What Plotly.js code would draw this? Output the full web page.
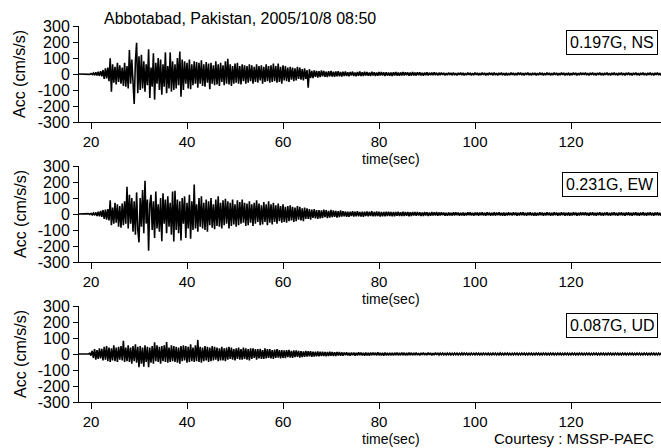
<!DOCTYPE html>
<html>
<head>
<meta charset="utf-8">
<script src="https://cdn.plot.ly/plotly-3.0.1.min.js"></script>
<style>html,body{margin:0;padding:0;background:#fff;}#chart{width:661px;height:448px;}</style>
</head>
<body>
<div id="chart"></div>
<script>
// Sampling of the records (start time and step, seconds)
const T0 = 17.5;
const DT = 0.25;

// NS component acceleration (cm/s/s), 20 samples (5 s) per row
const nsAcc = [
  0,0,0,0,0,0,0,0,1,-2,3,-4,6,-8,10,-9,14,-12,18,-15,
  25,-30,35,-28,40,-45,98,-110,60,-55,45,-65,70,-50,55,-60,40,-75,70,-80,
  50,-90,150,-60,90,-40,-187,80,195,-120,110,-100,120,-90,80,-110,60,-70,155,-150,
  40,-80,130,-160,70,-60,100,-100,90,-130,60,-80,135,-120,50,-90,135,-110,80,-100,
  60,-90,100,-70,140,-142,90,-100,80,-60,70,-90,90,-95,60,-70,80,-60,75,-85,
  70,-60,85,-75,60,-80,75,-55,65,-95,70,-60,55,-70,80,-65,60,-75,70,-50,
  55,-70,80,-60,95,-65,60,-75,50,-60,65,-55,70,-60,50,-65,60,-45,55,-60,
  50,-55,60,-45,55,-60,45,-50,60,-55,50,-40,55,-60,45,-50,60,-45,50,-55,
  55,-50,65,-45,50,-55,65,-50,45,-60,55,-40,50,-45,40,-50,45,-35,40,-45,
  35,-40,45,-30,40,-35,30,-40,35,-30,25,-85,30,-25,20,-25,22,-18,20,-22,
  18,-20,22,-15,20,-18,15,-20,18,-15,20,-16,14,-18,16,-14,18,-15,12,-16,
  14,-12,16,-13,11,-15,13,-10,15,-12,10,-14,12,-11,16,-13,11,-12,14,-10,
  12,-11,10,-13,14,-10,11,-12,9,-11,13,-10,12,-9,10,-12,11,-10,9,-11,
  10,-12,11,-9,13,-10,9,-11,10,-9,12,-10,11,-8,10,-11,9,-10,12,-9,
  9,-10,11,-8,10,-9,8,-10,9,-8,10,-9,8,-7,9,-8,10,-7,8,-9,
  8,-7,9,-6,7,-8,6,-7,8,-6,7,-8,9,-7,6,-8,7,-6,8,-7,
  7,-8,6,-7,9,-6,7,-8,6,-7,8,-6,7,-9,6,-7,8,-6,7,-8,
  6,-7,8,-6,7,-8,9,-7,6,-8,7,-6,8,-7,6,-8,7,-9,6,-7,
  8,-6,7,-8,6,-7,8,-6,9,-7,6,-8,7,-6,8,-7,6,-8,7,-6,
  7,-8,6,-7,8,-6,7,-9,6,-7,8,-6,7,-8,6,-7,9,-6,7,-8,
  6,-7,8,-6,7,-8,6,-7,8,-9,6,-7,8,-6,7,-8,6,-7,8,-6,
  7,-6,8,-7,6,-8,7,-6,8,-7,6,-9,7,-6,8,-7,6,-8,7,-6,
  8,-7,6,-8,7,-6,9,-7,6,-8,7,-6,8,-7,6,-8,7,-6,8,-7,
  6,-8,7,-6,8,-7,6,-8,7,-6,8,-7,6,-9,7,-6,8,-7,6,-8,
  7,-6,8,-7,6,-8,7,-6,8,-7,6,-8,7,-6,8,-7,6,-8,7,-6
];

// EW component acceleration (cm/s/s)
const ewAcc = [
  0,0,0,0,0,0,0,0,2,-3,4,-5,6,-8,10,-12,15,-14,20,-18,
  25,-30,28,-35,30,-40,85,-70,40,-60,70,-55,60,-80,50,-85,65,-70,80,-60,
  170,-90,120,-60,100,-110,80,-130,135,-100,-177,100,-80,150,-120,208,-60,90,-229,60,
  120,-100,80,-150,140,-90,60,-110,100,-170,130,-60,90,-120,110,-80,70,-130,140,-171,
  145,-100,90,-120,80,-165,100,-60,110,-150,70,-90,120,-155,80,-100,185,-90,60,-110,
  100,-80,110,-90,70,-100,90,-110,80,-70,100,-85,60,-95,90,-75,110,-80,70,-90,
  85,-70,95,-60,80,-90,70,-75,90,-65,60,-80,85,-70,75,-60,90,-55,70,-75,
  65,-70,80,-55,60,-75,70,-60,85,-50,65,-70,55,-65,75,-50,60,-70,80,-55,
  60,-65,70,-50,55,-60,65,-45,50,-55,60,-50,45,-55,50,-45,55,-40,45,-50,
  40,-45,50,-35,45,-40,35,-45,40,-30,35,-30,30,-35,28,-25,30,-28,25,-30,
  25,-28,22,-25,28,-20,24,-26,20,-22,25,-20,22,-18,20,-22,18,-20,22,-16,
  18,-15,16,-17,14,-18,15,-13,17,-16,14,-15,18,-14,13,-16,15,-17,14,-13,
  16,-14,15,-13,17,-15,12,-14,16,-13,14,-16,13,-15,12,-14,15,-12,14,-13,
  13,-15,12,-14,13,-11,15,-12,11,-13,14,-12,13,-11,12,-14,11,-12,13,-10,
  12,-11,13,-10,11,-12,10,-13,12,-10,11,-12,10,-11,12,-9,11,-10,12,-11,
  10,-9,11,-8,9,-10,8,-11,10,-9,8,-10,11,-9,10,-8,9,-10,8,-9,
  9,-10,8,-9,11,-8,10,-9,8,-10,9,-8,10,-11,9,-8,10,-9,8,-10,
  10,-8,9,-10,8,-9,11,-10,9,-8,10,-9,8,-10,9,-11,8,-9,10,-8,
  8,-9,10,-8,9,-10,8,-9,10,-8,11,-9,8,-10,9,-8,10,-9,8,-10,
  9,-10,8,-9,10,-8,9,-11,8,-9,10,-8,9,-10,8,-9,11,-8,9,-10,
  8,-9,10,-8,9,-10,8,-9,10,-11,8,-9,10,-8,9,-10,8,-9,10,-8,
  9,-8,10,-9,8,-10,9,-8,10,-9,8,-11,9,-8,10,-9,8,-10,9,-8,
  10,-9,8,-10,9,-8,11,-9,8,-10,9,-8,10,-9,8,-10,9,-8,10,-9,
  8,-10,9,-8,10,-9,8,-10,9,-8,10,-9,8,-11,9,-8,10,-9,8,-10,
  9,-8,10,-9,8,-10,9,-8,10,-9,8,-10,9,-8,10,-9,8,-10,9,-8
];

// UD component acceleration (cm/s/s)
const udAcc = [
  0,0,0,0,0,0,0,0,0,5,-10,20,-25,30,-35,25,-30,35,-28,32,
  -40,45,-35,50,-45,40,-50,35,-40,55,-45,40,-50,45,-35,50,-40,83,-50,40,
  -45,55,-50,40,-60,50,-45,60,-55,45,-83,50,-60,40,-80,55,-50,45,-83,40,
  -55,50,-60,73,-45,55,-50,45,-60,50,-45,55,-50,75,-55,40,-50,55,-45,50,
  -50,45,-55,40,-60,50,-45,55,-40,50,-55,45,-50,60,-45,40,-50,55,-45,88,
  -50,45,-55,40,-45,50,-40,45,-50,40,-45,50,-40,45,-35,40,-45,35,-40,45,
  -40,35,-45,40,-35,45,-30,40,-35,30,-40,35,-30,40,-35,30,-35,40,-30,35,
  -35,30,-40,35,-30,35,-25,30,-35,30,-28,32,-30,25,-30,35,-28,30,-25,30,
  -28,25,-30,28,-25,30,-22,25,-28,24,-25,22,-26,24,-20,25,-22,20,-24,22,
  -20,22,-18,20,-22,18,-20,16,-18,20,-16,18,-15,17,-18,15,-16,14,-15,16,
  -14,15,-12,14,-13,12,-15,13,-12,14,-11,13,-12,11,-13,12,-10,12,-11,10,
  -10,9,-8,10,-9,8,-10,9,-8,9,-10,8,-9,10,-8,9,-9,8,-10,9,
  -9,8,-10,9,-8,9,-7,8,-9,10,-8,7,-9,8,-10,9,-8,7,-9,8,
  -8,7,-9,8,-7,9,-8,7,-8,9,-7,8,-9,7,-8,9,-7,8,-8,7,
  -7,8,-7,6,-8,7,-6,8,-7,6,-7,8,-6,7,-8,6,-7,8,-6,7,
  -6,5,-4,6,-5,4,-6,5,-4,5,-6,4,-5,6,-4,5,-6,4,-5,6,
  -5,6,-4,5,-6,4,-5,6,-4,5,-5,6,-4,5,-6,4,-5,6,-4,5,
  -4,5,-6,4,-5,6,-4,5,-6,4,-5,6,-5,4,-6,5,-4,6,-5,4,
  -6,4,-5,6,-4,5,-6,4,-5,6,-4,5,-6,4,-5,6,-4,5,-6,4,
  -5,6,-4,5,-6,4,-5,6,-4,5,-6,4,-5,6,-4,5,-6,4,-5,6,
  -4,5,-6,4,-5,6,-4,5,-6,4,-5,6,-4,5,-6,4,-5,6,-4,5,
  -6,4,-5,6,-4,5,-6,4,-5,6,-4,5,-6,4,-5,6,-4,5,-6,4,
  -5,6,-4,5,-6,4,-5,6,-4,5,-6,4,-5,6,-4,5,-6,4,-5,6,
  -4,5,-6,4,-5,6,-4,5,-6,4,-5,6,-4,5,-6,4,-5,6,-4,5,
  -6,4,-5,6,-4,5,-6,4,-5,6,-4,5,-6,4,-5,6,-4,5,-6,4
];

// Labels
const componentLabels = ["0.197G, NS", "0.231G, EW", "0.087G, UD"];
const titleText = "Abbotabad, Pakistan, 2005/10/8 08:50";
const xTickVals = [20, 40, 60, 80, 100, 120, 140];
const xTickText = ["20", "40", "60", "80", "100", "120", "140"];
const yTickVals = [300, 200, 100, 0, -100, -200, -300];
const yTickText = ["300", "200", "100", "0", "-100", "-200", "-300"];

function timeAxis(n) { const t = []; for (let i = 0; i < n; i++) t.push(T0 + i * DT); return t; }

const FONT = "Liberation Sans, Arial, sans-serif";
const W = 661, H = 448, ML = 79;
const plotW = W - ML;
const px2fy = p => 1 - p / H;
const px2fx = p => (p - ML) / plotW;

const panels = [
  {acc: nsAcc, top: 26, bot: 122, box: 42},
  {acc: ewAcc, top: 166, bot: 262, box: 184.5},
  {acc: udAcc, top: 306, bot: 402, box: 325}
];

const traces = [];
const layout = {
  width: W, height: H,
  margin: {l: ML, r: 0, t: 0, b: 0},
  paper_bgcolor: "#fff", plot_bgcolor: "#fff",
  showlegend: false,
  font: {family: FONT, size: 16, color: "#000"},
  title: {text: titleText, font: {family: FONT, size: 16, color: "#000"},
          xref: "container", yref: "container", x: 104 / W, xanchor: "left", y: 1 - 18 / H, yanchor: "middle"},
  annotations: []
};

panels.forEach((p, i) => {
  const s = i === 0 ? "" : String(i + 1);
  traces.push({
    x: timeAxis(p.acc.length), y: p.acc, type: "scatter", mode: "lines",
    line: {color: "#000", width: 1.6}, xaxis: "x" + s, yaxis: "y" + s, hoverinfo: "skip"
  });
  layout["xaxis" + s] = {
    domain: [0, 1], anchor: "y" + s, range: [17.5, 138.75],
    tickvals: xTickVals, ticktext: xTickText, ticks: "outside", ticklen: 6, tickcolor: "#000",
    showline: true, linecolor: "#000", linewidth: 1, showgrid: false, zeroline: false,
    tickfont: {family: FONT, size: 15, color: "#000"}, fixedrange: true
  };
  layout["yaxis" + s] = {
    domain: [px2fy(p.bot), px2fy(p.top)], anchor: "x" + s, range: [-300, 300],
    tickvals: yTickVals, ticktext: yTickText, ticks: "outside", ticklen: 5, tickcolor: "#000",
    showline: true, linecolor: "#000", linewidth: 1, showgrid: false, zeroline: false,
    tickfont: {family: FONT, size: 16, color: "#000"}, fixedrange: true
  };
  layout.annotations.push({
    text: "Acc (cm/s/s)", textangle: -90, xref: "paper", yref: "paper",
    x: px2fx(20), y: px2fy((p.top + p.bot) / 2), xanchor: "center", yanchor: "middle",
    showarrow: false, font: {family: FONT, size: 16, color: "#000"}
  });
  layout.annotations.push({
    text: "time(sec)", xref: "paper", yref: "paper",
    x: px2fx(391), y: px2fy(p.bot + 37), xanchor: "center", yanchor: "middle",
    showarrow: false, font: {family: FONT, size: 14, color: "#000"}
  });
  layout.annotations.push({
    text: componentLabels[i], xref: "paper", yref: "paper",
    x: px2fx(658), y: px2fy(p.box), xanchor: "right", yanchor: "middle",
    showarrow: false, bordercolor: "#000", borderwidth: 1, borderpad: 3, bgcolor: "#fff",
    font: {family: FONT, size: 16, color: "#000"}
  });
});

layout.annotations.push({
  text: "Courtesy : MSSP-PAEC", xref: "paper", yref: "paper",
  x: px2fx(656), y: px2fy(438), xanchor: "right", yanchor: "middle",
  showarrow: false, font: {family: FONT, size: 15, color: "#000"}
});

Plotly.newPlot("chart", traces, layout, {displayModeBar: false, staticPlot: true});
</script>
</body>
</html>
